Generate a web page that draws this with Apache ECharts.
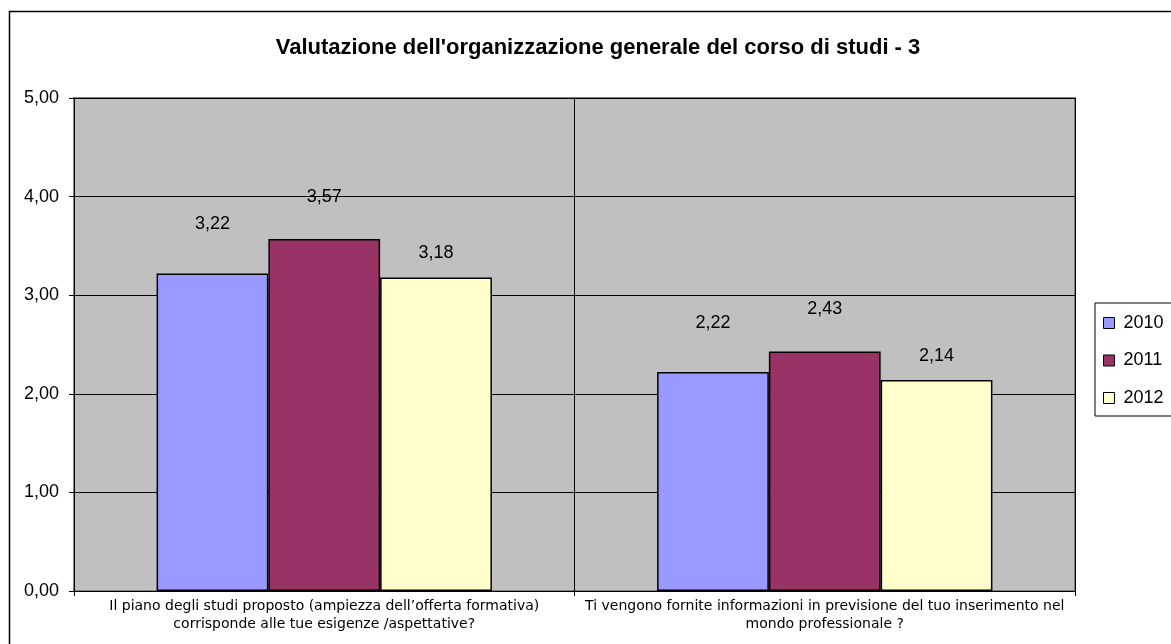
<!DOCTYPE html>
<html>
<head>
<meta charset="utf-8">
<script src="https://cdn.jsdelivr.net/npm/echarts@6/dist/echarts.min.js"></script>
<style>
  html, body { margin: 0; padding: 0; background: #fff; }
  #chart { width: 1171px; height: 644px; }
</style>
</head>
<body>
<div id="chart"></div>
<script>
// dati
const categories = [
  'Il piano degli studi proposto (ampiezza dell\u2019offerta formativa)\ncorrisponde alle tue esigenze /aspettative?',
  'Ti vengono fornite informazioni in previsione del tuo inserimento nel\nmondo professionale ?'
]
const years = ['2010', '2011', '2012']
const values2010 = [3.22, 2.22]
const values2011 = [3.57, 2.43]
const values2012 = [3.18, 2.14]
const yTicks = [0, 1, 2, 3, 4, 5]

const colors = ['#9999FF', '#993366', '#FFFFCC']
const labelDist = [40, 33, 15]
const fmt = v => Number(v).toFixed(2).replace('.', ',')

const chart = echarts.init(document.getElementById('chart'))

const makeSeries = (name, data, i) => ({
  name,
  type: 'bar',
  data,
  barGap: 0,
  barCategoryGap: '33%',
  itemStyle: { color: colors[i], borderColor: '#000', borderWidth: 1.5 },
  label: {
    show: true,
    position: 'top',
    distance: labelDist[i],
    color: '#000',
    fontFamily: 'Liberation Sans',
    fontSize: 18,
    formatter: p => fmt(p.value)
  }
})

chart.setOption({
  animation: false,
  textStyle: { fontFamily: 'Liberation Sans' },
  title: {
    text: "Valutazione dell'organizzazione generale del corso di studi - 3",
    left: 593,
    top: 32,
    textAlign: 'center',
    textStyle: { fontSize: 22, fontWeight: 'bold', color: '#000', fontFamily: 'Liberation Sans' }
  },
  graphic: [{
    type: 'rect',
    shape: { x: 9.5, y: 11.5, width: 1300, height: 800 },
    style: { fill: 'none', stroke: '#000', lineWidth: 1.5 },
    silent: true,
    z: -1
  }],
  legend: {
    data: years,
    orient: 'vertical',
    left: 1095,
    top: 303,
    padding: [10, 40, 8, 8],
    itemGap: 17.5,
    itemWidth: 11,
    itemHeight: 11,
    icon: 'rect',
    borderColor: '#000',
    borderWidth: 1,
    backgroundColor: '#fff',
    itemStyle: { borderColor: '#000', borderWidth: 1 },
    textStyle: { fontSize: 18, color: '#000', lineHeight: 20, padding: [0, 0, 0, 4], fontFamily: 'Liberation Sans' }
  },
  grid: {
    left: 74,
    top: 98,
    right: 96,
    bottom: 53,
    show: true,
    backgroundColor: '#C0C0C0',
    borderColor: '#808080',
    borderWidth: 2
  },
  xAxis: {
    type: 'category',
    data: categories,
    axisLine: { lineStyle: { color: '#000', width: 1 } },
    axisTick: { show: true, length: 5, lineStyle: { color: '#000' } },
    splitLine: { show: true, lineStyle: { color: '#000', width: 1 } },
    axisLabel: {
      color: '#000',
      fontFamily: 'DejaVu Sans',
      fontSize: 14,
      lineHeight: 18,
      margin: 6,
      interval: 0
    }
  },
  yAxis: {
    type: 'value',
    min: yTicks[0],
    max: yTicks[yTicks.length - 1],
    interval: 1,
    axisLine: { show: true, lineStyle: { color: '#000', width: 1 } },
    axisTick: { show: true, length: 5, lineStyle: { color: '#000' } },
    splitLine: { lineStyle: { color: '#000', width: 1 } },
    axisLabel: {
      color: '#000',
      fontSize: 18,
      margin: 15,
      formatter: v => fmt(v)
    }
  },
  series: [
    makeSeries(years[0], values2010, 0),
    makeSeries(years[1], values2011, 1),
    makeSeries(years[2], values2012, 2)
  ]
})
</script>
</body>
</html>
